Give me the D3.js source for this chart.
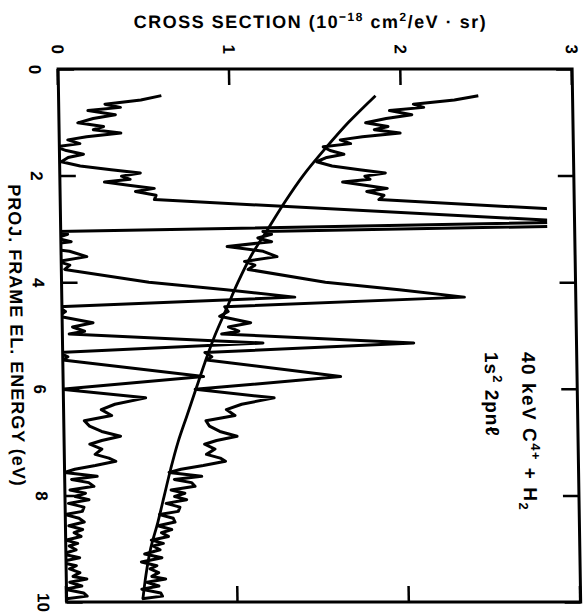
<!DOCTYPE html>
<html>
<head>
<meta charset="utf-8">
<script src="https://cdn.jsdelivr.net/npm/d3@7"></script>
<style>
body { margin: 0; background: #fff; }
svg { display: block; }
text { font-family: "Liberation Sans", Arial, sans-serif; font-weight: bold; fill: #000; }
</style>
</head>
<body>
<div id="chart"></div>
<script>

// energy (eV) of the sampled spectrum points
var specE = [0.50,0.58,0.66,0.72,0.78,0.86,0.93,1.01,1.08,1.14,
  1.20,1.27,1.33,1.40,1.46,1.53,1.60,1.66,1.74,1.82,
  1.89,1.95,2.01,2.07,2.12,2.18,2.24,2.30,2.37,2.45,
  2.87,3.05,3.10,3.17,3.24,3.33,3.42,3.52,3.61,3.68,
  3.76,4.00,4.14,4.28,4.46,4.55,4.64,4.76,4.84,4.92,
  4.97,5.14,5.32,5.40,5.46,5.77,6.01,6.17,6.29,6.39,
  6.50,6.60,6.70,6.80,6.89,6.97,7.04,7.13,7.23,7.30,
  7.36,7.44,7.51,7.57,7.64,7.70,7.76,7.83,7.90,7.96,
  8.02,8.08,8.15,8.22,8.30,8.36,8.43,8.50,8.57,8.64,
  8.70,8.77,8.84,8.90,8.95,9.02,9.10,9.17,9.25,9.32,
  9.38,9.45,9.52,9.57,9.63,9.70,9.76,9.83,9.89,9.94];

// lower trace (background subtracted)
var lowerV = [0.60,0.48,0.27,0.36,0.17,0.33,0.20,0.11,0.26,0.20,
  0.36,0.16,0.05,0.12,-0.02,0.04,0.14,0.05,0.01,0.12,
  0.30,0.47,0.36,0.41,0.26,0.40,0.55,0.44,0.56,0.55,
  3.05,-0.02,0.04,-0.03,0.06,-0.18,0.05,0.15,-0.02,0.05,
  0.02,0.51,0.96,1.36,-0.02,0.02,-0.02,0.18,0.06,0.13,
  0.04,1.17,-0.02,0.03,0.00,0.82,-0.01,0.48,0.30,0.22,
  0.28,0.12,0.15,0.22,0.33,0.22,0.15,0.22,0.18,0.26,
  0.30,0.18,0.06,0.00,0.19,0.04,0.14,0.17,0.03,0.12,
  0.06,0.14,0.02,0.11,0.10,0.00,0.08,0.11,0.02,0.10,
  0.05,0.09,0.00,0.07,0.02,0.06,-0.02,0.08,-0.04,0.06,
  0.02,0.08,0.04,0.12,0.02,0.09,-0.01,0.10,0.12,0.00];

// upper trace (raw spectrum)
var upperV = [2.45,2.31,2.07,2.13,1.93,2.06,1.91,1.79,1.92,1.84,
  1.99,1.77,1.64,1.70,1.54,1.58,1.66,1.56,1.50,1.59,
  1.75,1.90,1.78,1.81,1.65,1.78,1.91,1.79,1.89,1.86,
  4.28,1.18,1.23,1.15,1.23,0.97,1.18,1.26,1.07,1.13,
  1.09,1.54,1.97,2.35,0.95,0.97,0.92,1.10,0.97,1.03,
  0.93,2.05,0.83,0.87,0.84,1.62,0.77,1.23,1.04,0.95,
  1.00,0.83,0.85,0.91,1.01,0.89,0.82,0.88,0.83,0.91,
  0.94,0.81,0.68,0.61,0.80,0.64,0.74,0.76,0.62,0.70,
  0.64,0.71,0.59,0.67,0.66,0.55,0.63,0.64,0.54,0.62,
  0.56,0.60,0.50,0.57,0.51,0.55,0.46,0.56,0.44,0.53,
  0.49,0.54,0.50,0.58,0.47,0.54,0.44,0.55,0.56,0.44];

// smooth background curve
var bgE = [0.5,1.0,1.5,2.0,2.5,3.0,3.5,4.0,4.5,5.0,5.5,6.0,6.5,7.0,7.5,8.0,8.5,9.0,9.5,9.95];
var bgV = [1.85,1.69,1.55,1.42,1.31,1.21,1.11,1.03,0.96,0.89,0.83,0.775,0.72,0.665,0.62,0.58,0.54,0.495,0.465,0.445];

var energyTicks = [0, 2, 4, 6, 8, 10];
var csTicks = [0, 1, 2, 3];

// plot box on the page (the whole figure is turned 90 deg like the scan)
var boxLeft = 57, boxRight = 571, boxTop = 69, boxBottom = 602;
var W = boxBottom - boxTop,   // energy axis length
    H = boxRight - boxLeft;   // cross section axis length
var penMax = 2.84;            // plotter pen stops here, peaks are cut

var x = d3.scaleLinear().domain([0, 10]).range([0, W]);
var y = d3.scaleLinear().domain([0, 3]).range([H, 0]);

var svg = d3.select("#chart").append("svg")
  .attr("width", 587)
  .attr("height", 616);

svg.append("rect").attr("width", 587).attr("height", 616).attr("fill", "#fff");

// scan is a bit slanted
var page = svg.append("g").attr("transform", "skewX(0.92)");

var g = page.append("g")
  .attr("transform", "translate(" + boxRight + "," + boxTop + ") rotate(90)");

var spec = specE.map(function(e, i) { return {e: e, lo: lowerV[i], up: upperV[i]}; });
var bg = bgE.map(function(e, i) { return {e: e, v: bgV[i]}; });

var curves = g.append("g");

curves.append("path")
  .datum(bg)
  .attr("fill", "none")
  .attr("stroke", "#000")
  .attr("stroke-width", 2.8)
  .attr("d", d3.line().curve(d3.curveMonotoneX)
    .x(function(d) { return x(d.e); })
    .y(function(d) { return y(d.v); }));

curves.append("path")
  .datum(spec)
  .attr("fill", "none")
  .attr("stroke", "#000")
  .attr("stroke-width", 3)
  .attr("stroke-linejoin", "round")
  .attr("d", d3.line()
    .x(function(d) { return x(d.e); })
    .y(function(d) { return y(d.lo); }));

curves.append("path")
  .datum(spec)
  .attr("fill", "none")
  .attr("stroke", "#000")
  .attr("stroke-width", 3)
  .attr("stroke-linejoin", "round")
  .attr("d", d3.line()
    .x(function(d) { return x(d.e); })
    .y(function(d) { return y(d.up); }));

// white out what runs past the pen limit and below zero
g.append("rect")
  .attr("x", -2).attr("y", y(3) - 40)
  .attr("width", W + 4).attr("height", y(penMax) - y(3) + 40)
  .attr("fill", "#fff");
g.append("rect")
  .attr("x", -2).attr("y", y(0))
  .attr("width", W + 4).attr("height", 45)
  .attr("fill", "#fff");

function styleAxis(sel) {
  sel.select(".domain").remove();
  sel.selectAll(".tick line").attr("stroke", "#000").attr("stroke-width", 2.5);
  sel.selectAll(".tick text").style("font-size", "17px");
}

// energy axis (left side of page)
g.append("g")
  .attr("transform", "translate(0," + H + ")")
  .call(d3.axisBottom(x).tickValues(energyTicks).tickSizeInner(-16).tickSizeOuter(0).tickPadding(17).tickFormat(d3.format("d")))
  .call(styleAxis);

g.append("g")
  .call(d3.axisTop(x).tickValues(energyTicks).tickSizeInner(-16).tickSizeOuter(0).tickFormat(""))
  .call(styleAxis);

// cross section axis (top of page)
g.append("g")
  .call(d3.axisLeft(y).tickValues(csTicks).tickSizeInner(-16).tickSizeOuter(0).tickPadding(15).tickFormat(d3.format("d")))
  .call(styleAxis);

g.append("g")
  .attr("transform", "translate(" + W + ",0)")
  .call(d3.axisRight(y).tickValues(csTicks).tickSizeInner(-16).tickSizeOuter(0).tickFormat(""))
  .call(styleAxis);

// frame
g.append("rect")
  .attr("width", W)
  .attr("height", H)
  .attr("fill", "none")
  .attr("stroke", "#000")
  .attr("stroke-width", 3);

// axis titles
g.append("text")
  .attr("x", W / 2)
  .attr("y", H + 52)
  .attr("text-anchor", "middle")
  .style("font-size", "18px")
  .style("letter-spacing", "1px")
  .text("PROJ. FRAME EL. ENERGY (eV)");

var t = g.append("text")
  .attr("transform", "rotate(-90)")
  .attr("x", -261)
  .attr("y", -41)
  .attr("text-anchor", "middle")
  .style("font-size", "18px")
  .style("letter-spacing", "1.5px");
t.append("tspan").text("CROSS SECTION (10");
t.append("tspan").attr("dy", -7).style("font-size", "12px").text("\u221218");
t.append("tspan").attr("dy", 7).text(" cm");
t.append("tspan").attr("dy", -7).style("font-size", "12px").text("2");
t.append("tspan").attr("dy", 7).text("/eV \u00b7 sr)");

// annotation
var a1 = g.append("text")
  .attr("x", 283)
  .attr("y", 55)
  .style("font-size", "19px")
  .style("letter-spacing", "1.5px");
a1.append("tspan").text("40 keV C");
a1.append("tspan").attr("dy", -8).style("font-size", "13px").text("4+");
a1.append("tspan").attr("dy", 8).text(" + H");
a1.append("tspan").attr("dy", 5).style("font-size", "13px").text("2");

var a2 = g.append("text")
  .attr("x", 283)
  .attr("y", 92)
  .style("font-size", "19px")
  .style("letter-spacing", "1px");
a2.append("tspan").text("1s");
a2.append("tspan").attr("dy", -8).style("font-size", "13px").text("2");
a2.append("tspan").attr("dy", 8).text(" 2pn\u2113");

</script>
</body>
</html>
